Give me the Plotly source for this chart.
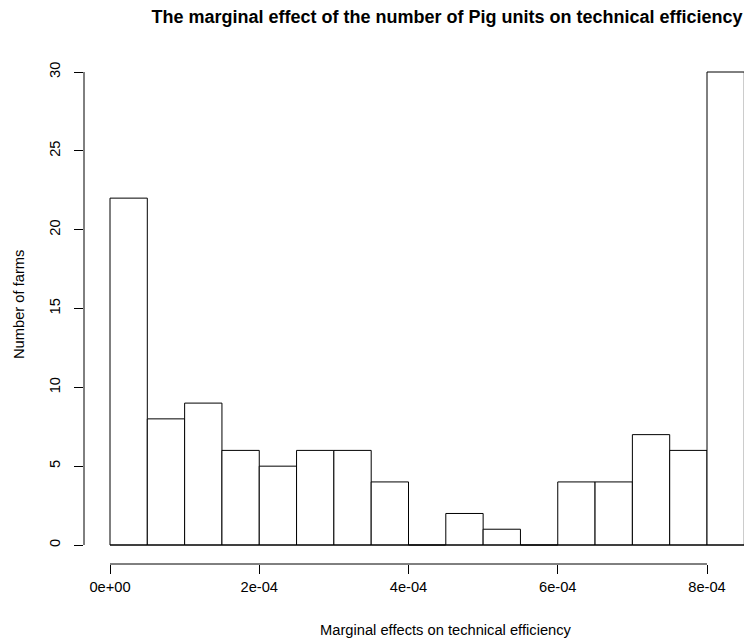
import plotly.graph_objects as go

# histogram bins (left edges) and counts
bin_left = [0.0, 5e-05, 1e-04, 1.5e-04, 2e-04, 2.5e-04, 3e-04, 3.5e-04, 4e-04,
            4.5e-04, 5e-04, 5.5e-04, 6e-04, 6.5e-04, 7e-04, 7.5e-04, 8e-04]
bin_width = 5e-05
counts = [22, 8, 9, 6, 5, 6, 6, 4, 0, 2, 1, 0, 4, 4, 7, 6, 30]

x_ticks = [0.0, 2e-04, 4e-04, 6e-04, 8e-04]
x_ticklabels = ["0e+00", "2e-04", "4e-04", "6e-04", "8e-04"]
y_ticks = [0, 5, 10, 15, 20, 25, 30]

FONT = "Liberation Sans, Arial, sans-serif"
# page body has an 8px margin, so the figure is a bit smaller than the window
W, H = 744, 633
ML, MR, MT, MB = 76, 0, 45, 77
PW, PH = W - ML - MR, H - MT - MB

# pixel scale of the axes (px per data unit)
x_px = 0.74625e6
x_zero = 102          # pixel of x = 0 in the figure
y_px = 473 / 30
y_zero = 537          # pixel of y = 0 in the figure

x_range = [-(x_zero - ML) / x_px, (W - MR - x_zero) / x_px]
y_range = [-((H - MB) - y_zero) / y_px, (y_zero - MT) / y_px]

fig = go.Figure()

fig.add_trace(go.Bar(
    x=bin_left, y=counts,
    width=bin_width, offset=0,
    marker=dict(color="white", line=dict(color="black", width=1)),
    showlegend=False, hoverinfo="x+y"
))

# baseline under the empty bins, like R's hist()
fig.add_shape(type="line", xref="x", yref="y",
              x0=bin_left[0], x1=bin_left[-1] + bin_width, y0=0, y1=0,
              line=dict(color="black", width=1))

# R style axis lines: only from first to last tick
fig.add_shape(type="line", xref="x", yref="paper",
              x0=x_ticks[0], x1=x_ticks[-1], y0=0, y1=0,
              line=dict(color="black", width=1))
fig.add_shape(type="line", xref="paper", yref="y",
              x0=0, x1=0, y0=y_ticks[0], y1=y_ticks[-1],
              line=dict(color="black", width=1))

fig.update_layout(
    width=W, height=H,
    margin=dict(l=ML, r=MR, t=MT, b=MB),
    paper_bgcolor="white", plot_bgcolor="white",
    font=dict(family=FONT, size=14.7, color="black"),
    title=dict(text="<b>The marginal effect of the number of Pig units on technical efficiency</b>",
               x=439 / W, xref="container", xanchor="center",
               y=1 - 9 / H, yref="container", yanchor="middle",
               font=dict(family=FONT, size=18, color="black")),
    xaxis=dict(range=x_range, showgrid=False, zeroline=False,
               showline=False, ticks="outside", ticklen=9, tickcolor="black",
               tickvals=x_ticks, ticktext=x_ticklabels,
               tickfont=dict(size=14.7), ticklabelstandoff=0),
    yaxis=dict(range=y_range, showgrid=False, zeroline=False,
               showline=False, ticks="outside", ticklen=9, tickcolor="black",
               tickvals=y_ticks, tickangle=-90, tickfont=dict(size=14.7),
               ticklabelstandoff=8),
    annotations=[
        dict(text="Marginal effects on technical efficiency", xref="paper", yref="paper",
             x=(438 - ML) / PW, y=-(622 - (H - MB)) / PH,
             xanchor="center", yanchor="middle", showarrow=False,
             font=dict(family=FONT, size=14.7, color="black")),
        dict(text="Number of farms", xref="paper", yref="paper",
             x=(11 - ML) / PW, y=1 - (297 - MT) / PH, textangle=-90,
             xanchor="center", yanchor="middle", showarrow=False,
             font=dict(family=FONT, size=14.7, color="black")),
    ],
)

fig.write_html("out.html")
